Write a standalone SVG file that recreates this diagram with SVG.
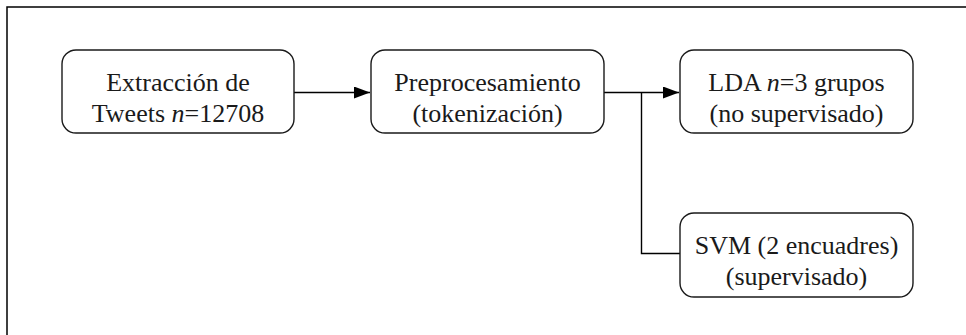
<svg xmlns="http://www.w3.org/2000/svg" width="966" height="335" viewBox="0 0 966 335">
<style>
.box{fill:#fff;stroke:#1a1a1a;stroke-width:1.4}
.lbl{font-family:"Liberation Serif","Times New Roman",serif;font-size:26px;fill:#1a1a1a;text-anchor:middle}
.con{fill:none;stroke:#000;stroke-width:1.4}
.frame{fill:none;stroke:#000;stroke-width:1.5}
</style>
<defs>
<marker id="arr" markerWidth="18" markerHeight="12" refX="16" refY="6" orient="auto" markerUnits="userSpaceOnUse">
<path d="M0,0 L16,6 L0,12 Z" fill="#000"/>
</marker>
</defs>
<rect width="966" height="335" fill="#fff"/>
<path class="frame" d="M7,340 L7,7 L975,7"/>
<g id="connectors">
<line class="con" x1="294" y1="92.5" x2="370" y2="92.5" marker-end="url(#arr)"/>
<line class="con" x1="604" y1="92.5" x2="679" y2="92.5" marker-end="url(#arr)"/>
<polyline class="con" points="641.5,92.5 641.5,253.5 680,253.5"/>
</g>
<g id="n1">
<rect class="box" x="62" y="50" width="232" height="83" rx="14"/>
<text class="lbl" x="178" y="91">Extracción de</text>
<text class="lbl" x="178" y="122">Tweets <tspan font-style="italic">n</tspan>=12708</text>
</g>
<g id="n2">
<rect class="box" x="371" y="50" width="233" height="83" rx="14"/>
<text class="lbl" x="487.5" y="91">Preprocesamiento</text>
<text class="lbl" x="487.5" y="122">(tokenización)</text>
</g>
<g id="n3">
<rect class="box" x="680" y="50" width="233" height="83" rx="14"/>
<text class="lbl" x="796.5" y="91">LDA <tspan font-style="italic">n</tspan>=3 grupos</text>
<text class="lbl" x="796.5" y="122">(no supervisado)</text>
</g>
<g id="n4">
<rect class="box" x="680" y="213" width="233" height="84" rx="14"/>
<text class="lbl" x="796.5" y="254">SVM (2 encuadres)</text>
<text class="lbl" x="796.5" y="285">(supervisado)</text>
</g>
</svg>
